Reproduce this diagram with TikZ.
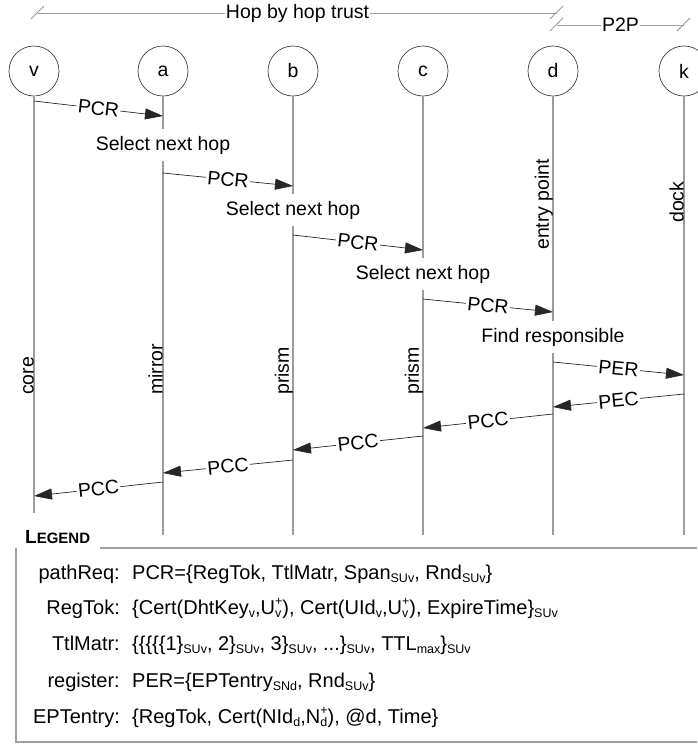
\documentclass[tikz,border=0pt]{standalone}
\usepackage{fontspec}
\setmainfont{Liberation Sans}
\usetikzlibrary{arrows.meta}
\definecolor{lifegray}{HTML}{9C9C9C}
\definecolor{boxgray}{HTML}{A0A0A0}
\newcommand\lsub[1]{\raisebox{-0.35ex}{\fontsize{12.5}{12.5}\selectfont #1}}
\newcommand\lsup[1]{\raisebox{0.85ex}{\fontsize{12.5}{12.5}\selectfont #1}}
\newcommand\lsubsup[2]{\makebox[0pt][l]{\lsub{#1}}\lsup{#2}}
\begin{document}
\begin{tikzpicture}[x=1pt,y=-1pt,
  every node/.style={font=\fontsize{19.5}{22}\selectfont, text=black},
  actor/.style={draw=black!75, circle, minimum size=50pt, inner sep=0pt, line width=0.7pt},
  life/.style={draw=lifegray, line width=1.3pt},
  msg/.style={draw=black!85, line width=0.7pt, -{Triangle[length=18pt,width=11pt]}},
  mlabel/.style={fill=white, inner xsep=1.5pt, inner ysep=0pt, sloped, pos=0.5},
  steptext/.style={fill=white, inner xsep=1pt, inner ysep=7pt},
  role/.style={rotate=90, anchor=south west, inner sep=0pt},
  dim/.style={draw=lifegray, line width=1pt},
  dimlabel/.style={fill=white, inner xsep=1pt, inner ysep=0pt},
  legbox/.style={draw=boxgray, line width=1.2pt},
  legkey/.style={font=\fontsize{20}{24}\selectfont, anchor=base east, inner sep=0pt},
  legval/.style={font=\fontsize{20}{24}\selectfont, anchor=base west, inner sep=0pt},
]
\useasboundingbox (0,0) rectangle (697,745);

% actors
\node[actor] (v) at (34,71) {v};
\node[actor] (a) at (163,71) {a};
\node[actor] (b) at (293,71) {b};
\node[actor] (c) at (423,71) {c};
\node[actor] (d) at (553,71) {d};
\node[actor] (k) at (684,71) {k};

% lifelines
\coordinate (vend) at (34,513);
\coordinate (aend) at (163,535);
\coordinate (bend) at (293,535);
\coordinate (cend) at (423,535);
\coordinate (dend) at (553,535);
\coordinate (kend) at (684,535);
\draw[life] (v.south) -- (vend);
\draw[life] (a.south) -- (aend);
\draw[life] (b.south) -- (bend);
\draw[life] (c.south) -- (cend);
\draw[life] (d.south) -- (dend);
\draw[life] (k.south) -- (kend);

% top brackets
\coordinate (hl) at (38,13);
\coordinate (hr) at (557,13);
\draw[dim] (hl) -- node[dimlabel] (hoplab) {Hop by hop trust} (hr);
\draw[dim] ([shift={(-7,6)}]hl) -- ([shift={(6,-7)}]hl);
\draw[dim] ([shift={(-7,6)}]hr) -- ([shift={(6,-7)}]hr);
\coordinate (pl) at (557,25);
\coordinate (pr) at (684,25);
\draw[dim] (pl) -- node[dimlabel] (p2plab) {P2P} (pr);
\draw[dim] ([shift={(-7,6)}]pl) -- ([shift={(6,-7)}]pl);
\draw[dim] ([shift={(-7,6)}]pr) -- ([shift={(6,-7)}]pr);

% step texts
\node[steptext] (s1) at (163,145) {Select next hop};
\node[steptext] (s2) at (293,210) {Select next hop};
\node[steptext] (s3) at (423,274) {Select next hop};
\node[steptext] (s4) at (553,337) {Find responsible};

% role labels
\node[role] (rv) at (34,395) {core};
\node[role] (ra) at (163,395) {mirror};
\node[role] (rb) at (293,395) {prism};
\node[role] (rc) at (423,395) {prism};
\node[role] (rd) at (553,250) {entry point};
\node[role] (rk) at (684,223) {dock};

% messages
\coordinate (m1s) at (34,101);  \coordinate (m1e) at (163,116);
\coordinate (m2s) at (163,173); \coordinate (m2e) at (293,186);
\coordinate (m3s) at (293,235); \coordinate (m3e) at (423,250);
\coordinate (m4s) at (423,299); \coordinate (m4e) at (553,312);
\coordinate (m5s) at (553,362); \coordinate (m5e) at (684,375);
\coordinate (m6s) at (684,394); \coordinate (m6e) at (553,407);
\coordinate (m7s) at (553,414); \coordinate (m7e) at (423,428);
\coordinate (m8s) at (423,436); \coordinate (m8e) at (293,450);
\coordinate (m9s) at (293,460); \coordinate (m9e) at (163,473);
\coordinate (m10s) at (163,482); \coordinate (m10e) at (34,496);
\draw[msg] (m1s) -- node[mlabel] {PCR} (m1e);
\draw[msg] (m2s) -- node[mlabel] {PCR} (m2e);
\draw[msg] (m3s) -- node[mlabel] {PCR} (m3e);
\draw[msg] (m4s) -- node[mlabel] {PCR} (m4e);
\draw[msg] (m5s) -- node[mlabel] {PER} (m5e);
\draw[msg] (m6s) -- node[mlabel] {PEC} (m6e);
\draw[msg] (m7s) -- node[mlabel] {PCC} (m7e);
\draw[msg] (m8s) -- node[mlabel] {PCC} (m8e);
\draw[msg] (m9s) -- node[mlabel] {PCC} (m9e);
\draw[msg] (m10s) -- node[mlabel] {PCC} (m10e);

% legend
\node[anchor=base west, inner sep=0pt] (legend) at (25,543)
  {\bfseries\fontsize{19}{19}\selectfont L\fontsize{15}{15}\selectfont EGEND};
\draw[legbox] (100,548) -- (697,548);
\draw[legbox] (16,548) -- (16,742) -- (697,742);

\node[legkey] (k1) at (120,579) {pathReq:};
\node[legkey] (k2) at (120,614) {RegTok:};
\node[legkey] (k3) at (120,650) {TtlMatr:};
\node[legkey] (k4) at (120,687) {register:};
\node[legkey] (k5) at (120,723) {EPTentry:};
\node[legval] (v1) at (132,579) {PCR=\{RegTok, TtlMatr, Span\lsub{SUv}, Rnd\lsub{SUv}\}};
\node[legval] (v2) at (132,614) {\{Cert(DhtKey\lsub{v},U\lsubsup{v}{+}), Cert(UId\lsub{v},U\lsubsup{v}{+}), ExpireTime\}\lsub{SUv}};
\node[legval] (v3) at (132,650) {\{\{\{\{\{1\}\lsub{SUv}, 2\}\lsub{SUv}, 3\}\lsub{SUv}, ...\}\lsub{SUv}, TTL\lsub{max}\}\lsub{SUv}};
\node[legval] (v4) at (132,687) {PER=\{EPTentry\lsub{SNd}, Rnd\lsub{SUv}\}};
\node[legval] (v5) at (132,723) {\{RegTok, Cert(NId\lsub{d},N\lsubsup{d}{+}), @d, Time\}};
\end{tikzpicture}
\end{document}
